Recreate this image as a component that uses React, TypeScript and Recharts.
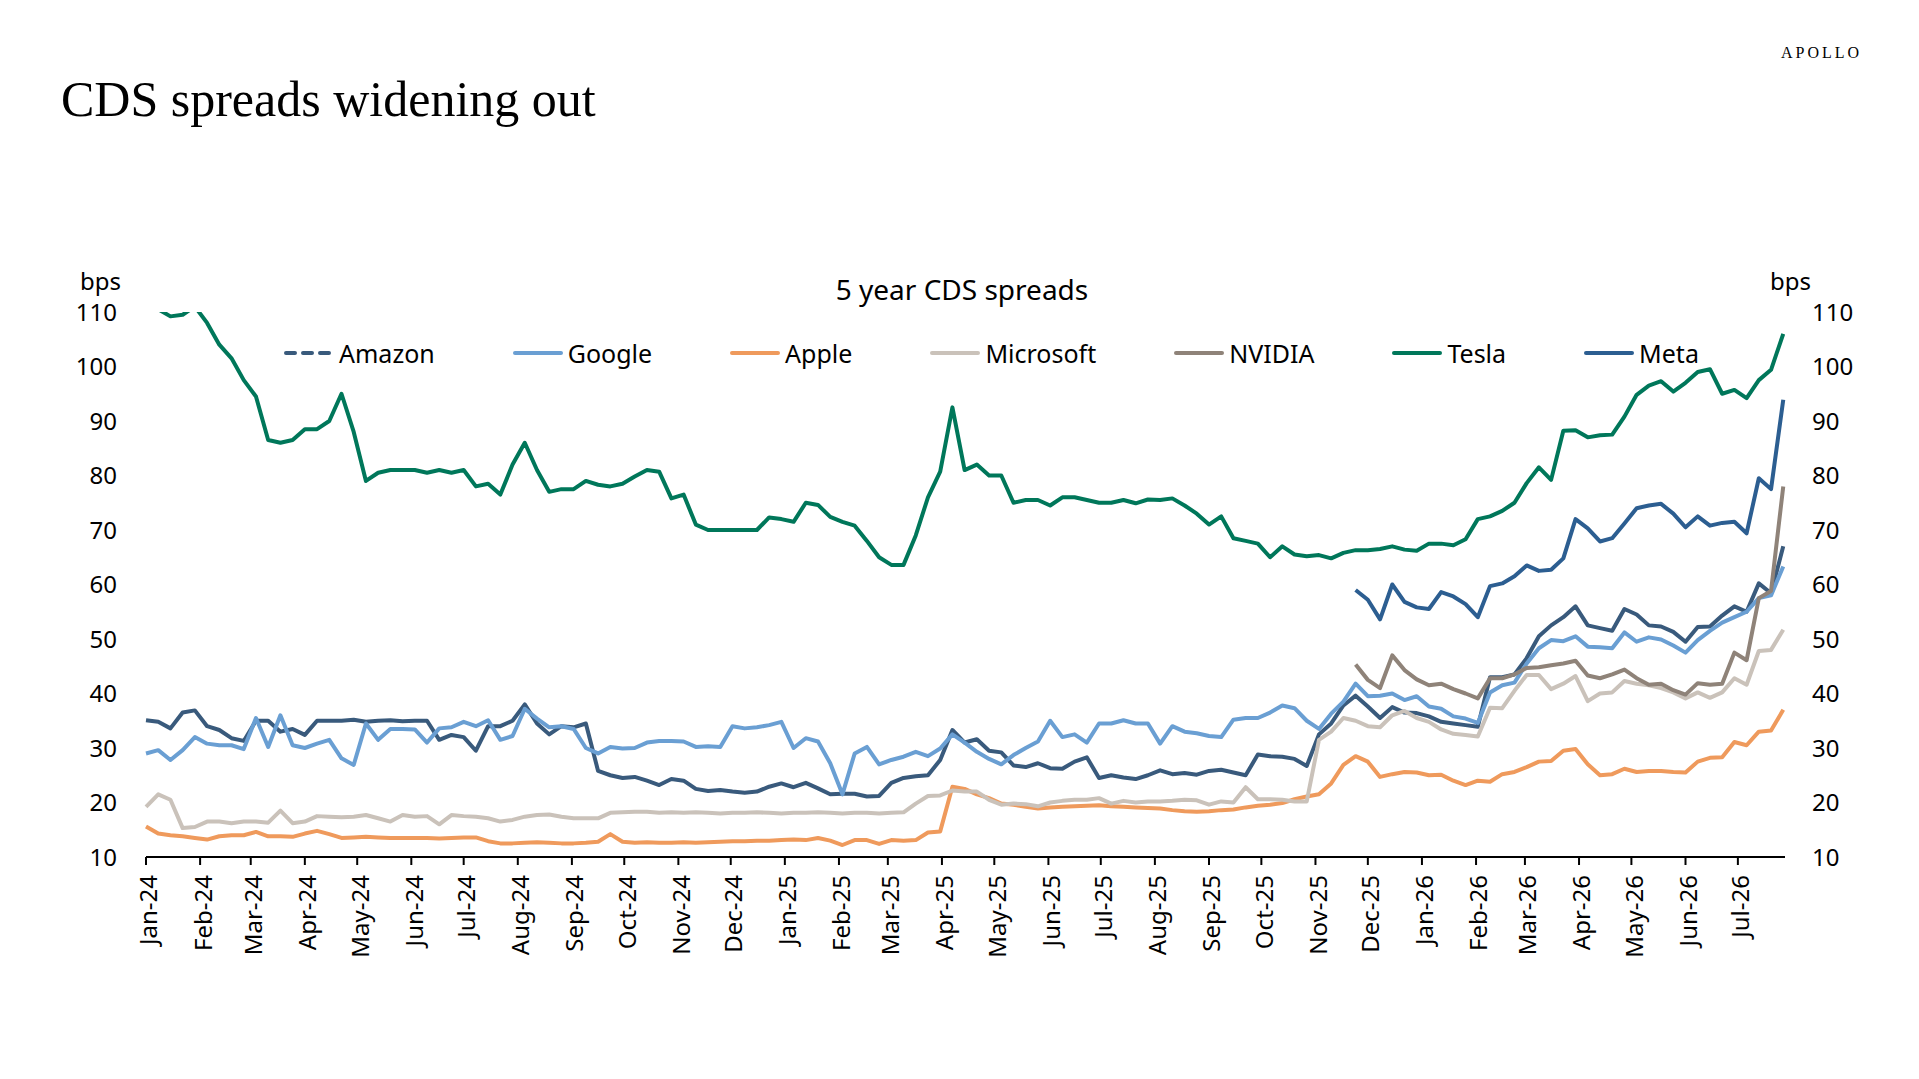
import { LineChart, Line, XAxis, YAxis } from "recharts";

// Weekly observations, starting 1 Jan 2024 (x = days since that date)
const OBS_DAYS = Array.from({ length: 135 }, (_, i) => i * 7);

const MONTH_DAYS = [
  0, 31, 60, 91, 121, 152, 182, 213, 244, 274, 305, 335,
  366, 397, 425, 456, 486, 517, 547, 578, 609, 639, 670, 700,
  731, 762, 790, 821, 851, 882, 912,
];
const MONTH_LABELS = [
  "Jan-24", "Feb-24", "Mar-24", "Apr-24", "May-24", "Jun-24", "Jul-24", "Aug-24",
  "Sep-24", "Oct-24", "Nov-24", "Dec-24", "Jan-25", "Feb-25", "Mar-25", "Apr-25",
  "May-25", "Jun-25", "Jul-25", "Aug-25", "Sep-25", "Oct-25", "Nov-25", "Dec-25",
  "Jan-26", "Feb-26", "Mar-26", "Apr-26", "May-26", "Jun-26", "Jul-26",
];
const Y_TICKS = [10, 20, 30, 40, 50, 60, 70, 80, 90, 100, 110];

const AMAZON = [
  35.1, 34.8, 33.6, 36.5, 36.9, 34, 33.3, 31.8, 31.3, 35,
  35, 33, 33.5, 32.4, 35, 35, 35, 35.2, 34.8, 35,
  35.1, 34.9, 35, 35, 31.5, 32.4, 32, 29.5, 34, 34,
  35, 38, 34.5, 32.5, 34, 33.8, 34.5, 25.8, 25, 24.5,
  24.7, 24, 23.2, 24.3, 24, 22.5, 22.1, 22.3, 22, 21.8,
  22, 22.9, 23.5, 22.8, 23.6, 22.6, 21.5, 21.6, 21.6, 21.1,
  21.2, 23.6, 24.5, 24.8, 25, 27.8, 33.3, 31, 31.6, 29.5,
  29.2, 26.8, 26.5, 27.2, 26.3, 26.2, 27.5, 28.3, 24.5, 25,
  24.6, 24.3, 25, 25.9, 25.2, 25.4, 25.1, 25.8, 26, 25.5,
  25, 28.8, 28.5, 28.4, 28, 26.7, 32.5, 34.5, 37.8, 39.6,
  37.6, 35.5, 37.5, 36.5, 36.4, 35.8, 34.8, 34.5, 34.2, 33.9,
  43, 43, 43.5, 46.5, 50.5, 52.5, 54, 56, 52.5, 52,
  51.5, 55.5, 54.5, 52.5, 52.3, 51.3, 49.5, 52.2, 52.3, 54.3,
  56, 55, 60.2, 58.4, 67,
];

const GOOGLE = [
  29, 29.6, 27.8, 29.6, 32, 30.8, 30.5, 30.5, 29.8, 35.5,
  30.2, 36, 30.5, 30, 30.8, 31.5, 28.1, 26.9, 34.5, 31.5,
  33.5, 33.5, 33.4, 31, 33.6, 33.8, 34.8, 34, 35.1, 31.5,
  32.2, 37.2, 35.4, 33.8, 34, 33.5, 30, 29, 30.2, 29.9,
  30, 31, 31.3, 31.3, 31.2, 30.2, 30.3, 30.2, 34, 33.6,
  33.8, 34.2, 34.8, 30, 31.8, 31.2, 27.2, 21.5, 29, 30.2,
  27, 27.8, 28.4, 29.3, 28.5, 29.9, 32.5, 31, 29.3, 28,
  27, 28.7, 30, 31.2, 35, 32, 32.5, 31, 34.5, 34.5,
  35.1, 34.5, 34.5, 30.8, 34, 33, 32.7, 32.2, 32, 35.2,
  35.5, 35.5, 36.5, 37.8, 37.3, 35, 33.5, 36.3, 38.5, 41.8,
  39.5, 39.6, 40, 38.8, 39.5, 37.6, 37.2, 35.8, 35.4, 34.6,
  40.2, 41.5, 42, 45.5, 48.3, 49.8, 49.6, 50.5, 48.6, 48.5,
  48.3, 51.2, 49.5, 50.3, 49.9, 48.8, 47.5, 49.8, 51.5, 53,
  54, 55, 57.5, 58, 63.3,
];

const APPLE = [
  15.6, 14.3, 14, 13.8, 13.5, 13.2, 13.8, 14, 14, 14.6,
  13.8, 13.8, 13.7, 14.3, 14.8, 14.2, 13.5, 13.6, 13.7, 13.6,
  13.5, 13.5, 13.5, 13.5, 13.4, 13.5, 13.6, 13.6, 12.9, 12.5,
  12.5, 12.6, 12.7, 12.6, 12.5, 12.5, 12.6, 12.8, 14.2, 12.8,
  12.6, 12.7, 12.6, 12.6, 12.7, 12.6, 12.7, 12.8, 12.9, 12.9,
  13, 13, 13.1, 13.2, 13.1, 13.5, 13, 12.2, 13.1, 13.1,
  12.4, 13.1, 13, 13.1, 14.5, 14.7, 22.9, 22.5, 21.5, 20.8,
  19.8, 19.6, 19.2, 18.9, 19.1, 19.2, 19.3, 19.4, 19.5, 19.3,
  19.2, 19.1, 19, 18.9, 18.6, 18.4, 18.3, 18.4, 18.6, 18.7,
  19.1, 19.4, 19.6, 19.9, 20.6, 21.1, 21.5, 23.5, 26.9, 28.5,
  27.5, 24.7, 25.2, 25.6, 25.5, 25, 25.1, 24, 23.2, 24,
  23.8, 25.2, 25.6, 26.5, 27.5, 27.6, 29.5, 29.8, 27, 25,
  25.2, 26.2, 25.6, 25.8, 25.8, 25.6, 25.5, 27.5, 28.2, 28.3,
  31.1, 30.5, 33, 33.2, 37,
];

const MICROSOFT = [
  19.2, 21.5, 20.5, 15.3, 15.5, 16.5, 16.5, 16.2, 16.5, 16.5,
  16.3, 18.5, 16.2, 16.5, 17.5, 17.4, 17.3, 17.4, 17.7, 17.1,
  16.5, 17.7, 17.4, 17.5, 16, 17.7, 17.5, 17.4, 17.1, 16.5,
  16.8, 17.4, 17.7, 17.8, 17.4, 17.1, 17.1, 17.1, 18.1, 18.2,
  18.3, 18.3, 18.1, 18.2, 18.1, 18.2, 18.1, 18, 18.1, 18.1,
  18.2, 18.1, 18, 18.1, 18.1, 18.2, 18.1, 18, 18.1, 18.1,
  18, 18.1, 18.2, 19.8, 21.2, 21.3, 22.2, 22, 22, 20.5,
  19.6, 19.8, 19.7, 19.3, 20, 20.3, 20.5, 20.5, 20.8, 19.8,
  20.3, 20, 20.2, 20.2, 20.3, 20.5, 20.4, 19.6, 20.2, 20,
  22.8, 20.6, 20.6, 20.5, 20.2, 20.2, 31.5, 33, 35.5, 35,
  34, 33.8, 36, 36.8, 35.5, 34.8, 33.4, 32.6, 32.4, 32.1,
  37.4, 37.3, 40.5, 43.4, 43.4, 40.8, 41.8, 43.2, 38.6, 40,
  40.2, 42.3, 41.8, 41.5, 41, 40.2, 39.1, 40.2, 39.2, 40.2,
  42.8, 41.6, 47.8, 48, 51.7,
];

const TESLA = [
  112, 110.5, 109.2, 109.5, 111, 108, 104, 101.5, 97.5, 94.5,
  86.5, 86, 86.5, 88.5, 88.5, 90, 95, 88, 79, 80.5,
  81, 81, 81, 80.5, 81, 80.5, 81, 78, 78.5, 76.5,
  82, 86, 81, 77, 77.5, 77.5, 79, 78.3, 78, 78.5,
  79.8, 81, 80.7, 75.8, 76.5, 71, 70, 70, 70, 70,
  70, 72.3, 72, 71.5, 75, 74.6, 72.4, 71.5, 70.8, 68,
  65, 63.6, 63.6, 69, 76, 80.7, 92.5, 81, 82, 80,
  80, 75, 75.5, 75.5, 74.5, 76, 76, 75.5, 75, 75,
  75.5, 74.9, 75.6, 75.5, 75.8, 74.5, 73, 71, 72.5, 68.5,
  68, 67.5, 65, 67, 65.5, 65.2, 65.4, 64.8, 65.8, 66.3,
  66.3, 66.5, 67, 66.4, 66.2, 67.5, 67.5, 67.2, 68.3, 72,
  72.5, 73.5, 75, 78.6, 81.5, 79.2, 88.2, 88.3, 87, 87.4,
  87.5, 90.8, 94.8, 96.5, 97.3, 95.4, 97, 99, 99.5, 95,
  95.7, 94.2, 97.5, 99.4, 106,
];

// NVIDIA and Meta quotes begin in week 99 (late Nov 2025)
const LATE_START = 99;
const NVIDIA = [
  45.3, 42.5, 41, 47, 44.3, 42.6, 41.5, 41.8, 40.8, 40,
  39.1, 42.8, 42.8, 43.5, 44.7, 44.8, 45.2, 45.5, 46, 43.3,
  42.8, 43.5, 44.4, 42.8, 41.6, 41.8, 40.6, 39.8, 41.9, 41.6,
  41.8, 47.5, 46.1, 57.5, 58.8, 78,
];
const META = [
  59, 57.2, 53.6, 60, 56.8, 55.8, 55.5, 58.6, 57.8, 56.4,
  54, 59.7, 60.2, 61.5, 63.5, 62.5, 62.7, 64.8, 72, 70.3,
  67.9, 68.5, 71.2, 74, 74.5, 74.8, 73, 70.5, 72.5, 70.8,
  71.3, 71.5, 69.4, 79.5, 77.5, 93.9,
];

const late = (arr: number[], i: number) => (i >= LATE_START ? arr[i - LATE_START] : null);

const rows = OBS_DAYS.map((day, i) => ({
  day,
  amazon: AMAZON[i],
  google: GOOGLE[i],
  apple: APPLE[i],
  microsoft: MICROSOFT[i],
  nvidia: late(NVIDIA, i),
  tesla: TESLA[i],
  meta: late(META, i),
}));

const SERIES = [
  { key: "amazon", name: "Amazon", color: "#395a7c", dashed: true },
  { key: "google", name: "Google", color: "#6a9fd3", dashed: false },
  { key: "apple", name: "Apple", color: "#ef9a5c", dashed: false },
  { key: "microsoft", name: "Microsoft", color: "#cac2ba", dashed: false },
  { key: "nvidia", name: "NVIDIA", color: "#8f8379", dashed: false },
  { key: "tesla", name: "Tesla", color: "#00775a", dashed: false },
  { key: "meta", name: "Meta", color: "#2c5e91", dashed: false },
];

const SANS = "'Noto Sans', 'Open Sans', sans-serif";
const SERIF = "'Liberation Serif', 'DejaVu Serif', serif";

function MonthTick({ x, y, payload }: any) {
  const label = MONTH_LABELS[MONTH_DAYS.indexOf(payload.value)];
  return (
    <text
      transform={`translate(${x + 3},${y - 2}) rotate(-90)`}
      textAnchor="end"
      dy="0.35em"
      fontSize={24}
      fontFamily={SANS}
      fill="#000"
    >
      {label}
    </text>
  );
}

function LegendRow() {
  return (
    <div style={{ display: "flex", alignItems: "center", gap: 77 }}>
      {SERIES.map((s) => (
        <div key={s.key} style={{ display: "flex", alignItems: "center" }}>
          <svg width={52} height={10}>
            <line
              x1={3} y1={5} x2={49} y2={5}
              stroke={s.color} strokeWidth={4} strokeLinecap="round"
              strokeDasharray={s.dashed ? "9 8" : undefined}
            />
          </svg>
          <span style={{ fontFamily: SANS, fontSize: 25, color: "#000", marginLeft: 4, lineHeight: "30px" }}>
            {s.name}
          </span>
        </div>
      ))}
    </div>
  );
}

export default function App() {
  const tickStyle = { fontSize: 24, fontFamily: SANS, fill: "#000" };
  return (
    <div style={{ position: "absolute", left: 0, top: 0, width: 1919, height: 1079, background: "#fff", overflow: "hidden" }}>
      <div style={{ position: "absolute", left: 61, top: 70, fontFamily: SERIF, fontSize: 50, color: "#000", whiteSpace: "nowrap" }}>
        CDS spreads widening out
      </div>
      <div style={{ position: "absolute", left: 1781, top: 44, fontFamily: SERIF, fontSize: 16, letterSpacing: 3, color: "#000" }}>
        APOLLO
      </div>
      <div style={{ position: "absolute", left: 0, width: 1924, top: 270, textAlign: "center", fontFamily: SANS, fontSize: 28, color: "#000" }}>
        5 year CDS spreads
      </div>
      <div style={{ position: "absolute", left: 80, top: 264, fontFamily: SANS, fontSize: 24, color: "#000" }}>bps</div>
      <div style={{ position: "absolute", left: 1770, top: 264, fontFamily: SANS, fontSize: 24, color: "#000" }}>bps</div>

      <LineChart
        width={1919}
        height={1079}
        data={rows}
        margin={{ top: 312, right: 0, bottom: 102, left: 0 }}
      >
        <XAxis
          dataKey="day"
          type="number"
          domain={[0, 939]}
          ticks={MONTH_DAYS}
          interval={0}
          height={120}
          tickSize={8}
          tickMargin={12}
          axisLine={{ stroke: "#000", strokeWidth: 2 }}
          tickLine={{ stroke: "#000", strokeWidth: 2 }}
          tick={<MonthTick />}
        />
        <YAxis
          yAxisId="left"
          orientation="left"
          width={146}
          domain={[10, 110]}
          ticks={Y_TICKS}
          allowDataOverflow
          axisLine={false}
          tickLine={false}
          tickSize={0}
          tickMargin={29}
          tick={tickStyle}
        />
        <YAxis
          yAxisId="right"
          orientation="right"
          width={134}
          domain={[10, 110]}
          ticks={Y_TICKS}
          allowDataOverflow
          axisLine={false}
          tickLine={false}
          tickSize={0}
          tickMargin={27}
          tick={tickStyle}
        />
        {SERIES.map((s) => (
          <Line
            key={s.key}
            yAxisId="left"
            type="linear"
            dataKey={s.key}
            name={s.name}
            stroke={s.color}
            strokeWidth={4}
            strokeLinejoin="round"
            dot={false}
            activeDot={false}
            connectNulls={false}
            isAnimationActive={false}
          />
        ))}
      </LineChart>

      <div style={{ position: "absolute", left: 283, top: 338 }}>
        <LegendRow />
      </div>
    </div>
  );
}
